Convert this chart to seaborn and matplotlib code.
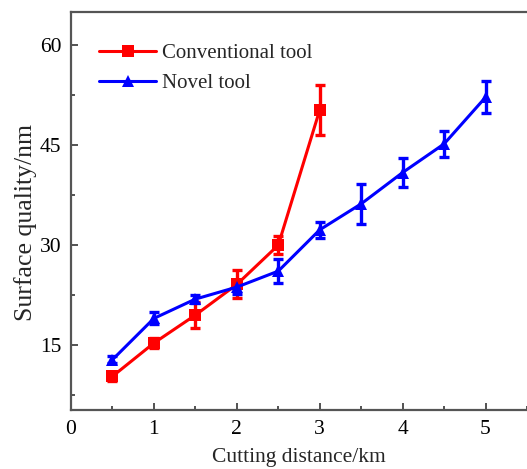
import numpy as np
import pandas as pd
import matplotlib
matplotlib.use("Agg")
import matplotlib.pyplot as plt
import seaborn as sns
from matplotlib.ticker import MultipleLocator

# values
conv_dist = [0.5, 1.0, 1.5, 2.0, 2.5, 3.0]
conv_quality = [10.3, 15.3, 19.5, 24.1, 30.0, 50.3]
conv_err = [0.7, 0.7, 2.0, 2.1, 1.4, 3.7]

novel_dist = [0.5, 1.0, 1.5, 2.0, 2.5, 3.0, 3.5, 4.0, 4.5, 5.0]
novel_quality = [12.8, 19.0, 21.9, 23.7, 26.1, 32.3, 36.2, 40.9, 45.2, 52.2]
novel_err = [0.5, 0.9, 0.6, 1.0, 1.8, 1.2, 3.0, 2.2, 1.9, 2.4]

labels = ["Conventional tool", "Novel tool"]
colors = {"Conventional tool": "#ff0000", "Novel tool": "#0000ff"}
markers = {"Conventional tool": "s", "Novel tool": "^"}

df = pd.concat([
    pd.DataFrame({"dist": conv_dist, "quality": conv_quality, "err": conv_err, "tool": labels[0]}),
    pd.DataFrame({"dist": novel_dist, "quality": novel_quality, "err": novel_err, "tool": labels[1]}),
])

sns.set_style("ticks")
plt.rcParams["font.family"] = ["Liberation Serif", "DejaVu Serif"]

fig = plt.figure(figsize=(5.27, 4.69), dpi=100)
ax = fig.add_axes([0.1347, 0.1258, 0.8653, 0.8486])

# error bars first so lines sit on top
for tool in labels:
    sub = df[df["tool"] == tool]
    ax.errorbar(sub["dist"], sub["quality"], yerr=sub["err"], fmt="none",
                ecolor=colors[tool], elinewidth=2.4, capsize=3.5, capthick=2.4, zorder=2)

sns.lineplot(data=df, x="dist", y="quality", hue="tool", style="tool",
             palette=colors, markers=markers, dashes=False, linewidth=2.2,
             markersize=8, markeredgewidth=0, ax=ax, zorder=3)

ax.set_xlim(0, 5.5)
ax.set_ylim(5.25, 65)
ax.xaxis.set_major_locator(MultipleLocator(1))
ax.xaxis.set_minor_locator(MultipleLocator(0.5))
ax.yaxis.set_major_locator(MultipleLocator(15))
ax.yaxis.set_minor_locator(MultipleLocator(7.5))
ax.tick_params(which="major", direction="in", length=5, width=1.3, colors="#444444",
               labelcolor="black", labelsize=15.5, pad=7)
ax.tick_params(which="minor", direction="in", length=3, width=1.3, colors="#444444")
ax.set_yticks([15, 30, 45, 60])

for side in ["left", "bottom", "top"]:
    ax.spines[side].set_color("#555555")
    ax.spines[side].set_linewidth(1.6)
ax.spines["right"].set_visible(False)

ax.set_xlabel("Cutting distance/km", fontsize=15.5, labelpad=6.5)
ax.set_ylabel("Surface quality/nm", fontsize=18.5)
ax.yaxis.set_label_coords(-0.075, 0.47)

leg = ax.legend(loc="upper left", bbox_to_anchor=(0.02, 0.968), frameon=False,
                fontsize=15, handlelength=2.75, handletextpad=0.3, labelspacing=0.5)

fig.savefig("out.png", dpi=100)
